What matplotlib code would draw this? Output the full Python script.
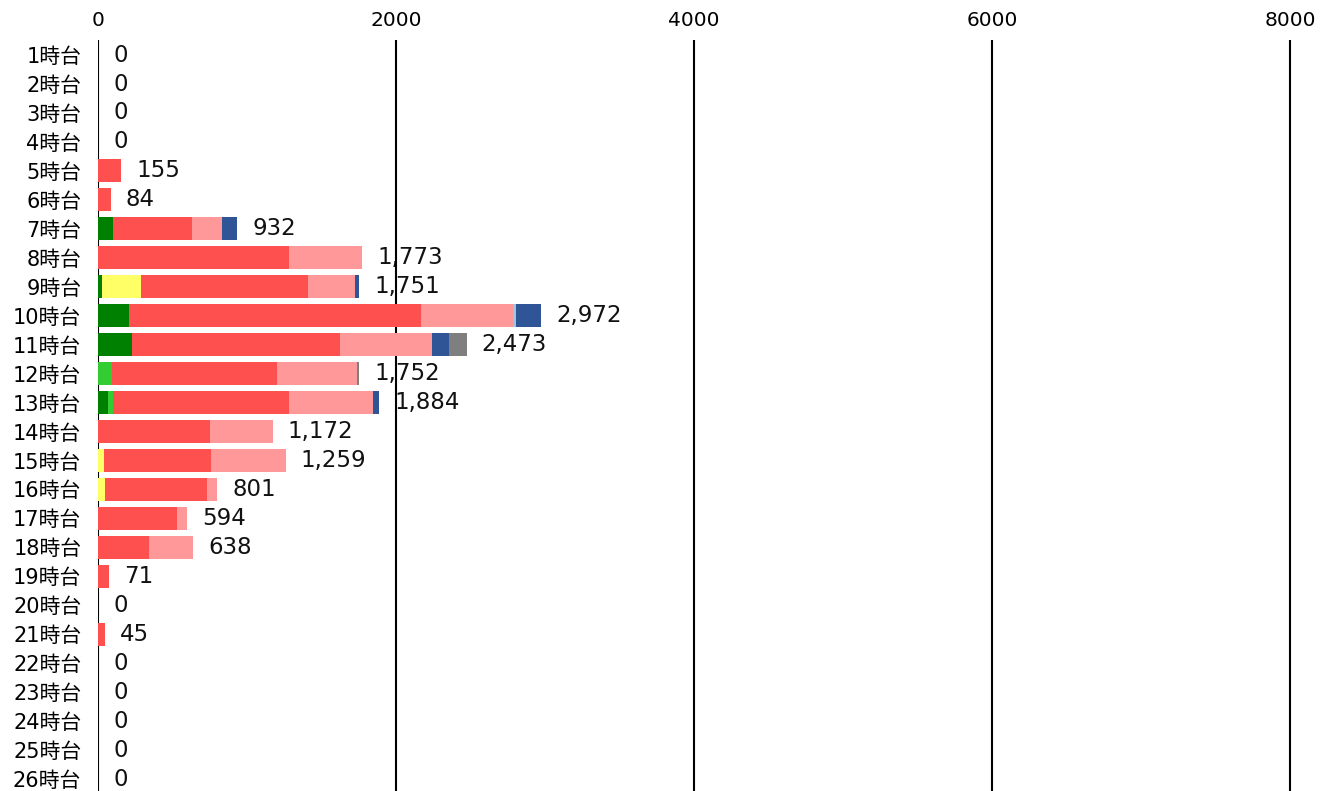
import numpy as np
import matplotlib
matplotlib.use("Agg")
import matplotlib.pyplot as plt

plt.rcParams['font.family'] = ['DejaVu Sans', 'Noto Sans CJK JP']

# 時間帯
hours = [f"{h}時台" for h in range(1, 27)]

# 各系列の値 (1時台〜26時台)
s_dkgreen = [0, 0, 0, 0, 0, 0, 103, 0, 24, 205, 228, 0, 67, 0, 0, 0, 0, 0, 0, 0, 0, 0, 0, 0, 0, 0]
s_green   = [0, 0, 0, 0, 0, 0, 0, 0, 0, 0, 0, 97, 31, 0, 0, 0, 0, 0, 0, 0, 0, 0, 0, 0, 0, 0]
s_yellow  = [0, 0, 0, 0, 0, 0, 0, 0, 264, 0, 0, 0, 0, 0, 39, 48, 0, 0, 0, 0, 0, 0, 0, 0, 0, 0]
s_red     = [0, 0, 0, 0, 155, 84, 527, 1279, 1118, 1962, 1399, 1104, 1186, 751, 719, 684, 527, 341, 71, 0, 45, 0, 0, 0, 0, 0]
s_ltred   = [0, 0, 0, 0, 0, 0, 201, 494, 318, 619, 615, 535, 564, 421, 501, 69, 67, 297, 0, 0, 0, 0, 0, 0, 0, 0]
s_ltblue  = [0, 0, 0, 0, 0, 0, 0, 0, 0, 18, 0, 0, 0, 0, 0, 0, 0, 0, 0, 0, 0, 0, 0, 0, 0, 0]
s_blue    = [0, 0, 0, 0, 0, 0, 101, 0, 27, 168, 114, 0, 36, 0, 0, 0, 0, 0, 0, 0, 0, 0, 0, 0, 0, 0]
s_gray    = [0, 0, 0, 0, 0, 0, 0, 0, 0, 0, 117, 16, 0, 0, 0, 0, 0, 0, 0, 0, 0, 0, 0, 0, 0, 0]

series = [s_dkgreen, s_green, s_yellow, s_red, s_ltred, s_ltblue, s_blue, s_gray]
colors = ['#008000', '#33cc33', '#ffff66', '#ff5050', '#ff9999', '#9dc3e6', '#2f5597', '#7f7f7f']

fig = plt.figure(figsize=(13.33, 7.91), dpi=100)
ax = fig.add_axes([98 / 1333, 0, 1 - 98 / 1333 - 13 / 1333, 1 - 40 / 791])

y = np.arange(1, 27)
left = np.zeros(len(hours))
for vals, c in zip(series, colors):
    vals = np.array(vals)
    ax.barh(y, vals, left=left, height=0.8, color=c, zorder=3)
    left += vals

# 合計ラベル
for yi, tot in zip(y, left):
    ax.annotate(f"{int(tot):,}", (tot, yi), xytext=(11, 0), textcoords='offset points',
                ha='left', va='center', fontsize=16.5, color='#111111', zorder=1)

ax.set_xlim(0, 8200)
ax.set_ylim(26.41, 0.48)
ax.set_xticks([0, 2000, 4000, 6000, 8000])
ax.xaxis.tick_top()
ax.tick_params(axis='x', length=0, labelsize=14.5, pad=7)
ax.set_yticks(y)
ax.set_yticklabels(hours)
ax.tick_params(axis='y', length=0, labelsize=15, pad=12)
ax.grid(axis='x', color='black', linewidth=1.5, zorder=2)
ax.set_axisbelow(False)
for s in ax.spines.values():
    s.set_visible(False)

fig.savefig("out.png", dpi=100)
